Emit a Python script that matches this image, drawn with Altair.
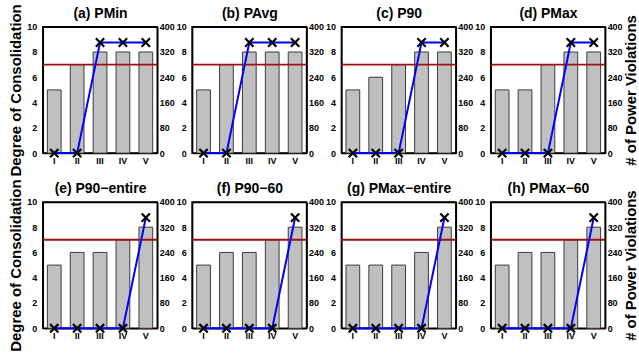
import altair as alt
import pandas as pd

CATEGORIES = ["I", "II", "III", "IV", "V"]
TITLES = ["(a) PMin", "(b) PAvg", "(c) P90", "(d) PMax",
          "(e) P90\u2212entire", "(f) P90\u221260", "(g) PMax\u2212entire", "(h) PMax\u221260"]
CONSOLIDATION = [
    [5, 7, 8, 8, 8],
    [5, 7, 8, 8, 8],
    [5, 6, 7, 8, 8],
    [5, 5, 7, 8, 8],
    [5, 6, 6, 7, 8],
    [5, 6, 6, 7, 8],
    [5, 5, 5, 6, 8],
    [5, 6, 6, 7, 8],
]
VIOLATIONS = [
    [0, 0, 350, 350, 350],
    [0, 0, 350, 350, 350],
    [0, 0, 0, 350, 350],
    [0, 0, 0, 350, 350],
    [0, 0, 0, 0, 350],
    [0, 0, 0, 0, 350],
    [0, 0, 0, 0, 350],
    [0, 0, 0, 0, 350],
]
THRESHOLD = 7
LEFT_TICKS = [0, 2, 4, 6, 8, 10]
RIGHT_TICKS = [0, 80, 160, 240, 320, 400]

FONT = "Liberation Sans"
XPATH = "M-1,-1L1,1M-1,1L1,-1"


def panel(i):
    col = i % 4
    df = pd.DataFrame({"cat": CATEGORIES, "cons": CONSOLIDATION[i], "viol": VIOLATIONS[i],
                       "thr": [THRESHOLD] * len(CATEGORIES)})
    base = alt.Chart(df)
    xscale = alt.Scale(paddingInner=0.4, paddingOuter=0.2)
    x_bottom = alt.X("cat:N", sort=CATEGORIES, scale=xscale,
                     axis=alt.Axis(title=None, labelAngle=0, labelPadding=3))
    x_top = alt.X("cat:N", sort=CATEGORIES, scale=xscale,
                  axis=alt.Axis(orient="top", labels=False, ticks=False, title=TITLES[i],
                                titleFontSize=14, titlePadding=6))
    x_none = alt.X("cat:N", sort=CATEGORIES, scale=xscale, axis=None)
    left_scale = alt.Scale(domain=[0, 10], nice=False)
    right_scale = alt.Scale(domain=[0, 400], nice=False)
    left_axis = alt.Axis(values=LEFT_TICKS, orient="left", labelPadding=6, titlePadding=3,
                         labelOverlap=False,
                         title="Degree of Consolidation" if col == 0 else None)
    right_axis = alt.Axis(values=RIGHT_TICKS, orient="right", labelPadding=2,
                          labelOverlap=False,
                          titlePadding=1, titleAngle=270, titleBaseline="top",
                          title="# of Power Violations" if col == 3 else None)
    bars = base.mark_bar(color="#c0c0c0", stroke="#3a3a3a", strokeWidth=1).encode(
        x=x_bottom, y=alt.Y("cons:Q", scale=left_scale, axis=left_axis))
    rule = base.transform_filter(alt.datum.cat == CATEGORIES[0]).mark_rule(
        color="#a01010", strokeWidth=2).encode(
        y=alt.Y("thr:Q", scale=left_scale, axis=None))
    line = base.mark_line(color="#0000ff", strokeWidth=2).encode(
        x=x_top, y=alt.Y("viol:Q", scale=right_scale, axis=right_axis))
    pts = base.mark_point(shape=XPATH, size=70, color="black", strokeWidth=2.2,
                          filled=False, opacity=1).encode(
        x=x_none, y=alt.Y("viol:Q", scale=right_scale, axis=None))
    return alt.layer(bars, rule, line, pts).resolve_scale(y="independent").resolve_axis(
        x="independent").properties(width=115, height=127)


chart = alt.concat(*[panel(i) for i in range(8)], columns=4,
                   spacing={"row": 49, "column": 35}, bounds="flush").properties(
    padding={"left": 8, "top": 2, "right": 0, "bottom": 0}
).configure_view(stroke="black", strokeWidth=1.5).configure_axis(
    labelFont=FONT, labelFontWeight="bold", labelFontSize=9, labelColor="black",
    titleFont=FONT, titleFontWeight="bold", titleFontSize=15, titleColor="black",
    domainColor="black", domainWidth=1.5, ticks=False, grid=False,
)

chart.save("out.html", embed_options={"renderer": "svg", "actions": False})
